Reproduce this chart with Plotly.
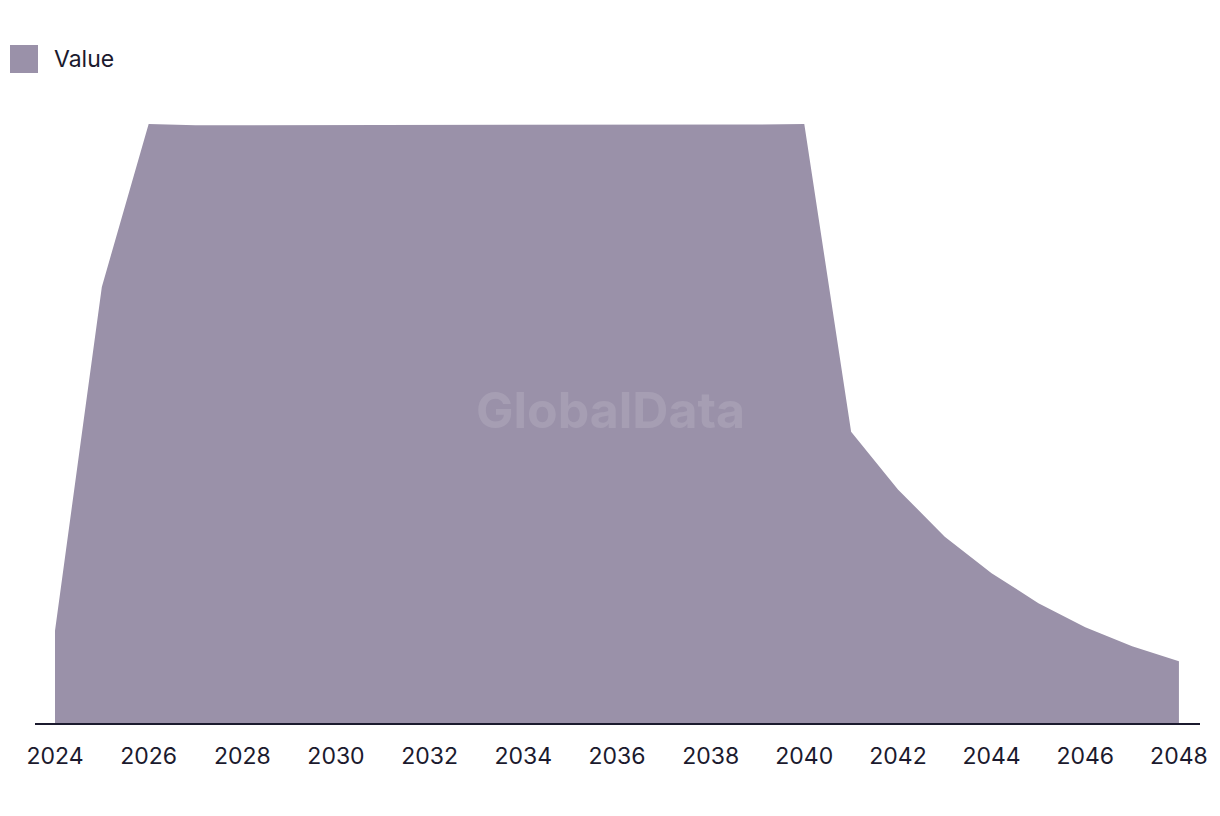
import plotly.graph_objects as go

years = list(range(2024, 2049))
values = [15.4, 72.8, 100.0, 99.8, 99.8, 99.8, 99.8, 99.8, 99.8, 99.8, 99.8, 99.8, 99.8,
          99.8, 99.8, 99.9, 100.0, 48.6, 39.0, 31.1, 25.0, 20.0, 16.0, 12.8, 10.3]
tick_years = list(range(2024, 2049, 2))
series_name = "Value"

fill_color = "#9a91a9"
text_color = "#1b1a2e"
font_family = "Inter, Roboto, sans-serif"

fig = go.Figure()
fig.add_trace(go.Scatter(
    x=years, y=values, mode="lines", fill="tozeroy",
    line=dict(width=0, color=fill_color), fillcolor=fill_color,
    name=series_name, showlegend=False, hoverinfo="x+y",
))

fig.update_layout(
    width=1220, height=816,
    margin=dict(l=35, r=20, t=100, b=93),
    paper_bgcolor="white", plot_bgcolor="white",
    font=dict(family=font_family, color=text_color, size=22),
    xaxis=dict(range=[2023.573, 2048.45], tickmode="array", tickvals=tick_years,
               ticktext=[str(y) for y in tick_years], showgrid=False, zeroline=False,
               showline=True, linecolor=text_color, linewidth=2, ticks="",
               tickfont=dict(size=23, color=text_color), ticklabelstandoff=11),
    yaxis=dict(range=[0, 104.0], visible=False, showgrid=False, zeroline=False),
    showlegend=False,
)

# Legend swatch and label
fig.add_shape(type="rect", xref="paper", yref="paper",
              x0=-25/1165, x1=3/1165, y0=(816-93-73)/623, y1=(816-93-45)/623,
              fillcolor=fill_color, line=dict(width=0))
fig.add_annotation(text=series_name, xref="paper", yref="paper",
                   x=17/1165, y=(816-93-59)/623, xanchor="left", yanchor="middle",
                   showarrow=False, font=dict(size=23, color=text_color))

# Watermark
fig.add_annotation(text="<b>GlobalData</b>", xref="paper", yref="paper",
                   x=(610-35)/1165, y=(723-410)/623, showarrow=False,
                   font=dict(size=50, color="rgba(255,255,255,0.12)",
                             family="Inter, Roboto, sans-serif"))

fig.write_html("out.html")
